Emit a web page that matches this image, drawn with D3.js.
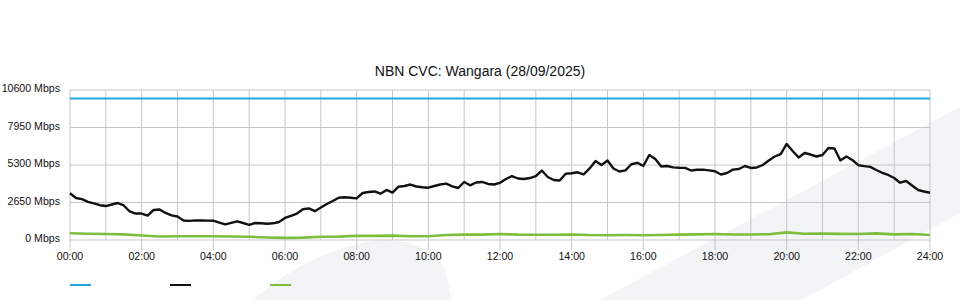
<!DOCTYPE html>
<html>
<head>
<meta charset="utf-8">
<title>NBN CVC: Wangara</title>
<script src="https://cdn.jsdelivr.net/npm/d3@7"></script>
<style>
  body { margin: 0; background: #fff; }
  svg { display: block; font-family: "Liberation Sans", Arial, sans-serif; }
</style>
</head>
<body>
<div id="chart"></div>
<script>
// Chart title
const title = "NBN CVC: Wangara (28/09/2025)";

// Y axis ticks (Mbps)
const yTicks = [0, 2650, 5300, 7950, 10600];

// X axis ticks (hours) and labels
const xTicks = [0, 2, 4, 6, 8, 10, 12, 14, 16, 18, 20, 22, 24];
const xLabels = ["00:00", "02:00", "04:00", "06:00", "08:00", "10:00", "12:00",
  "14:00", "16:00", "18:00", "20:00", "22:00", "24:00"];

// CVC capacity (Mbps), flat all day
const capacityHours = [0, 24];
const capacityValues = [10000, 10000];

// Download traffic (Mbps), one sample every 10 minutes from 00:00 to 24:00
const downloadValues = [
  3300, 2970, 2890, 2700, 2590, 2460, 2400, 2510, 2615, 2440,
  2015, 1870, 1870, 1730, 2120, 2155, 1910, 1745, 1660, 1380,
  1355, 1390, 1380, 1370, 1365, 1235, 1110, 1215, 1315, 1200,
  1075, 1200, 1185, 1145, 1180, 1270, 1555, 1710, 1870, 2170,
  2235, 2035, 2295, 2545, 2755, 2990, 3020, 2990, 2945, 3320,
  3390, 3430, 3270, 3535, 3355, 3765, 3815, 3920, 3780, 3730,
  3695, 3815, 3920, 3980, 3795, 3675, 4100, 3865, 4065, 4100,
  3960, 3920, 4040, 4310, 4520, 4345, 4310, 4380, 4520, 4910,
  4450, 4240, 4205, 4680, 4715, 4785, 4630, 5055, 5585, 5300,
  5620, 5055, 4840, 4925, 5355, 5455, 5230, 6005, 5725, 5195,
  5230, 5135, 5110, 5100, 4910, 4960, 4975, 4920, 4860, 4630,
  4735, 4970, 5015, 5230, 5090, 5125, 5300, 5620, 5900, 6075,
  6785, 6290, 5830, 6150, 6040, 5900, 6005, 6500, 6465, 5620,
  5900, 5655, 5285, 5220, 5170, 4945, 4750, 4595, 4380, 4050,
  4170, 3850, 3535, 3430, 3340
];

// Upload traffic (Mbps), one sample every 30 minutes
const uploadValues = [
  475, 440, 420, 400, 320, 250, 270, 270, 260, 250,
  230, 180, 150, 170, 230, 240, 300, 290, 310, 270,
  270, 350, 380, 380, 420, 380, 370, 370, 390, 350,
  340, 350, 340, 350, 380, 400, 420, 390, 390, 410,
  540, 440, 450, 430, 420, 470, 400, 420, 350
];

const seriesColors = ["#1ea5e2", "#111111", "#7cbf3c"];

const width = 960, height = 300;
const margin = { top: 90, right: 30, bottom: 60, left: 70 };

const svg = d3.select("#chart").append("svg")
  .attr("width", width)
  .attr("height", height);

// Faint watermark shapes in the background
svg.append("path")
  .attr("d", "M253,300 C285,272 330,245 380,240.5 C415,238.5 437,254 445,270 L452,300 Z")
  .attr("fill", "#f3f4f6");
svg.append("path")
  .attr("d", "M600,300 L960,107 L960,213 L802,300 Z")
  .attr("fill", "#f3f4f6");

const x = d3.scaleLinear()
  .domain([0, 24])
  .range([margin.left, width - margin.right]);

const y = d3.scaleLinear()
  .domain([0, 10600])
  .range([height - margin.bottom, margin.top]);

// Vertical grid, one line per hour
svg.append("g")
  .selectAll("line")
  .data(d3.range(0, 25))
  .join("line")
  .attr("x1", d => x(d))
  .attr("x2", d => x(d))
  .attr("y1", y(10600))
  .attr("y2", y(0))
  .attr("stroke", "#c6c6c6");

// Horizontal grid
svg.append("g")
  .selectAll("line")
  .data(yTicks)
  .join("line")
  .attr("x1", x(0))
  .attr("x2", x(24))
  .attr("y1", d => y(d))
  .attr("y2", d => y(d))
  .attr("stroke", "#c6c6c6");

// X axis: tick marks below the plot and labels
const xAxis = svg.append("g");
xAxis.selectAll("line")
  .data(xTicks)
  .join("line")
  .attr("x1", d => x(d))
  .attr("x2", d => x(d))
  .attr("y1", y(0))
  .attr("y2", y(0) + 10)
  .attr("stroke", "#c6c6c6");
xAxis.selectAll("text")
  .data(xTicks)
  .join("text")
  .attr("x", d => x(d))
  .attr("y", y(0) + 20)
  .attr("text-anchor", "middle")
  .attr("font-size", "10.6px")
  .attr("fill", "#111")
  .text((d, i) => xLabels[i]);

// Y axis labels
svg.append("g")
  .selectAll("text")
  .data(yTicks)
  .join("text")
  .attr("x", margin.left - 10)
  .attr("y", d => y(d) + 2)
  .attr("text-anchor", "end")
  .attr("font-size", "10.6px")
  .attr("fill", "#111")
  .text(d => d + " Mbps");

// Title
svg.append("text")
  .attr("x", 480)
  .attr("y", 76)
  .attr("text-anchor", "middle")
  .attr("font-size", "14px")
  .attr("fill", "#111")
  .text(title);

const line = d3.line()
  .x(d => x(d[0]))
  .y(d => y(d[1]));

const capacity = capacityHours.map((h, i) => [h, capacityValues[i]]);
const download = downloadValues.map((v, i) => [i / 6, v]);
const upload = uploadValues.map((v, i) => [i / 2, v]);

// Draw upload first, then download, capacity on top
const series = [
  { data: upload, color: seriesColors[2], width: 2.6 },
  { data: download, color: seriesColors[1], width: 2.4 },
  { data: capacity, color: seriesColors[0], width: 2.2 }
];
series.forEach(s => {
  svg.append("path")
    .datum(s.data)
    .attr("d", line)
    .attr("fill", "none")
    .attr("stroke", s.color)
    .attr("stroke-width", s.width)
    .attr("stroke-linejoin", "round");
});

// Legend swatches
svg.append("g")
  .selectAll("line")
  .data(seriesColors)
  .join("line")
  .attr("x1", (d, i) => 70 + i * 100)
  .attr("x2", (d, i) => 91 + i * 100)
  .attr("y1", 285)
  .attr("y2", 285)
  .attr("stroke", d => d)
  .attr("stroke-width", 2);
</script>
</body>
</html>
